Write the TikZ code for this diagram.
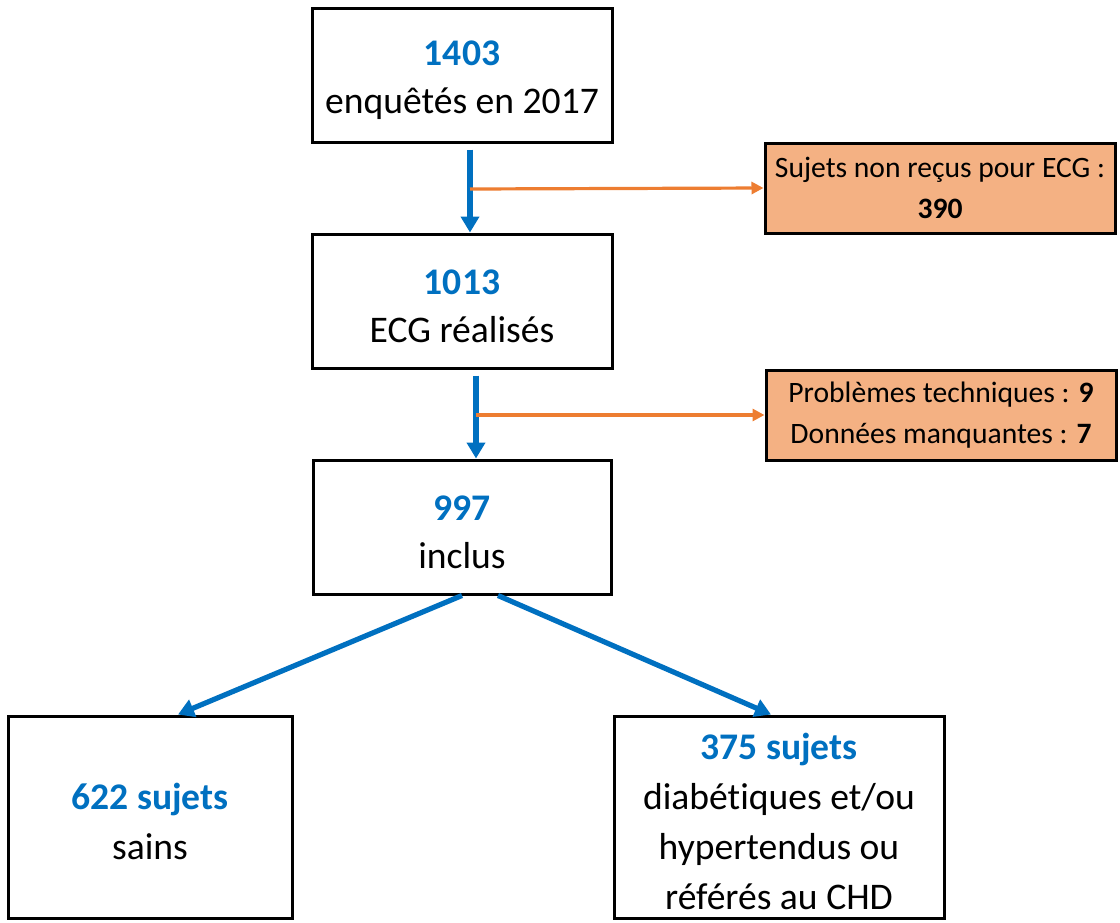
\documentclass[tikz,border=0pt]{standalone}
\usepackage{fontspec}
\setmainfont{Carlito}[Ligatures=NoCommon]
\usetikzlibrary{arrows.meta}
\definecolor{flowblue}{HTML}{0070C0}
\definecolor{flowline}{HTML}{ED7D31}
\definecolor{flowfill}{HTML}{F4B183}
\newcommand{\num}[1]{\rule{0pt}{18pt}\textcolor{flowblue}{\bfseries #1}}
\begin{document}
\begin{tikzpicture}[
    x=0.5pt, y=-0.5pt,
    stage/.style={rectangle, draw, line width=1.5pt, align=center,
        font=\fontsize{18.8}{25}\selectfont},
    excl/.style={rectangle, draw, line width=1.5pt, fill=flowfill, align=center,
        minimum width=175pt, minimum height=45pt,
        font=\fontsize{14.8}{20.5}\selectfont},
    flow/.style={draw=flowblue, line width=2.6pt,
        -{Triangle[length=8pt, width=9pt]}},
    side/.style={draw=flowline, line width=1.6pt,
        -{Triangle[length=6pt, width=6pt]}}
]
\useasboundingbox (0,0) rectangle (1120,922);

% Etapes principales
\node[stage, minimum width=150pt, minimum height=67pt] (enq) at (462,75) {\num{1403}\\[-1pt]enquêtés en 2017};
\node[stage, minimum width=150pt, minimum height=67pt] (ecg) at (462,301) {\num{1013}\\[-1pt]ECG réalisés};
\node[stage, minimum width=149pt, minimum height=67pt] (inc) at (462,527) {\num{997}\\[-1pt]inclus};
\node[stage, minimum width=142pt, minimum height=101pt] (sains) at (150,817) {\num{622 sujets}\\sains};
\node[stage, minimum width=165pt, minimum height=101pt] (chd) at (779,817) {\num{375 sujets}\\diabétiques et/ou\\hypertendus ou\\référés au CHD};

% Exclusions
\node[excl] (nonrecus) at (940,188) {Sujets non reçus pour ECG :\\\textbf{390}};
\node[excl] (manq) at (941,415) {Problèmes techniques : \textbf{9}\\Données manquantes : \textbf{7}};

\coordinate (j1) at (470,189);
\coordinate (j2) at (476,415);

\draw[flow] ([xshift=4pt, yshift=-3pt]enq.south) -- ([xshift=4pt]ecg.north);
\draw[flow] ([xshift=7pt, yshift=-3pt]ecg.south) -- ([xshift=7pt]inc.north);
\draw[side] (j1) -- (nonrecus.west);
\draw[side] (j2) -- (manq.west);

\draw[flow] (inc.south) -- ([xshift=14pt]sains.north);
\draw[flow] ([xshift=18pt]inc.south) -- ([xshift=-4pt]chd.north);
\end{tikzpicture}
\end{document}
